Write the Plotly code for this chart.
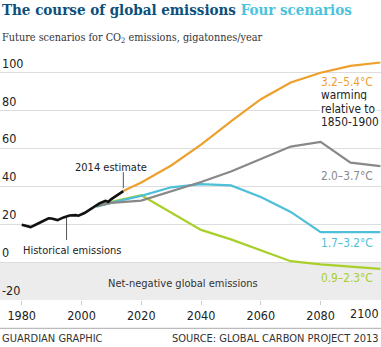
import plotly.graph_objects as go

# Historical fossil CO2 emissions, GtCO2/year
hist_years = [1980, 1983, 1986, 1989, 1990, 1992, 1994, 1996, 1998, 1999, 2001, 2003,
              2005, 2006, 2008, 2009, 2010, 2012, 2014]
hist_vals = [19.7, 18.5, 20.8, 23.1, 23.0, 22.2, 23.6, 24.6, 24.8, 24.5, 25.9, 27.8,
             30.0, 31.0, 32.3, 31.9, 33.3, 35.5, 37.5]

# Scenario pathways
scen_years = [2005, 2010, 2020, 2030, 2040, 2050, 2060, 2070, 2080, 2090, 2100]
high_years = [2014, 2020, 2030, 2040, 2050, 2060, 2070, 2080, 2090, 2100]
high_vals = [37.5, 42.0, 51.0, 62.0, 74.3, 86.0, 94.8, 100.0, 103.6, 105.4]
mid_high_vals = [29.5, 31.3, 32.5, 37.4, 42.3, 47.8, 54.6, 61.0, 63.5, 52.5, 50.7]
mid_low_vals = [29.3, 31.4, 35.0, 39.5, 41.2, 40.5, 34.4, 26.5, 15.8, 15.8, 15.8]
low_vals = [29.4, 31.8, 35.3, 26.0, 17.0, 12.0, 6.3, 0.5, -1.2, -2.5, -3.6]

scen_labels = ["3.2–5.4°C", "2.0–3.7°C", "1.7–3.2°C", "0.9–2.3°C"]
label_vals = [94.9, 45.5, 9.9, -8.6]

x_ticks = [1980, 2000, 2020, 2040, 2060, 2080, 2100]
y_ticks = [-20, 0, 20, 40, 60, 80, 100]

ORANGE = "#eea02d"
GREY = "#888888"
CYAN = "#4ebfd8"
GREEN = "#a9cf2a"
INK = "#222222"
SANS = "DejaVu Sans Condensed, Roboto, sans-serif"
SERIF = "DejaVu Serif Condensed, DejaVu Serif, serif"

fig = go.Figure()
line_w = 2.2
fig.add_trace(go.Scatter(x=scen_years, y=low_vals, mode="lines",
                         line=dict(color=GREEN, width=line_w)))
fig.add_trace(go.Scatter(x=scen_years, y=mid_low_vals, mode="lines",
                         line=dict(color=CYAN, width=line_w)))
fig.add_trace(go.Scatter(x=scen_years, y=mid_high_vals, mode="lines",
                         line=dict(color=GREY, width=line_w)))
fig.add_trace(go.Scatter(x=high_years, y=high_vals, mode="lines",
                         line=dict(color=ORANGE, width=line_w)))
fig.add_trace(go.Scatter(x=hist_years, y=hist_vals, mode="lines",
                         line=dict(color="#111111", width=2.6)))

# Net-negative band
fig.add_shape(type="rect", xref="paper", x0=0, x1=1, yref="y", y0=-20, y1=0,
              fillcolor="#ececec", line_width=0, layer="below")
# Rule above the footer
fig.add_shape(type="line", xref="paper", x0=0, x1=1, yref="paper",
              y0=-0.1155, y1=-0.1155, line=dict(color="#aaaaaa", width=1))
# Pointer lines
fig.add_shape(type="line", x0=hist_years[-1], x1=hist_years[-1], y0=39.0, y1=47.5,
              line=dict(color="#555555", width=1))
fig.add_shape(type="line", x0=1995, x1=1995, y0=11.7, y1=23.3,
              line=dict(color="#555555", width=1))

ann = []
txt = dict(family=SANS, size=11, color=INK)
lab_font = 11.8
ann.append(dict(x=2010, y=50.0, text="2014 estimate", xanchor="center", font=txt))
ann.append(dict(x=1979.6, y=6.4, text="Historical emissions", xanchor="left", font=txt))
ann.append(dict(x=2034, y=-11.2, text="Net-negative global emissions",
                xanchor="center", font=dict(family=SANS, size=11, color="#333333")))
for lab, v, c in zip(scen_labels, label_vals, [ORANGE, GREY, CYAN, GREEN]):
    ann.append(dict(x=2079.4, y=v, text=lab, xanchor="left",
                    font=dict(family=SANS, size=lab_font, color=c)))
for line, v in zip(["warming", "relative to", "1850-1900"], [88.2, 80.8, 73.8]):
    ann.append(dict(x=2079.4, y=v, text=line, xanchor="left", bgcolor="white",
                    borderpad=1, font=dict(family=SANS, size=lab_font, color=INK)))
for a in ann:
    a.update(xref="x", yref="y", showarrow=False, yanchor="middle")

# Y tick labels sit just above their gridlines
for t in y_ticks:
    ann.append(dict(x=0, xref="paper", y=t, yref="y", text=str(t),
                    xanchor="left", yanchor="bottom", showarrow=False,
                    font=dict(family=SANS, size=12.5, color=INK)))

# Last x tick label kept inside the canvas
ann.append(dict(x=1, xref="paper", y=-0.055, yref="paper", text=str(x_ticks[-1]),
                xanchor="right", yanchor="middle", showarrow=False,
                font=dict(family=SANS, size=12.5, color=INK)))

# Title, subtitle, footer
ann.append(dict(x=0, xref="paper", y=1.1837, yref="paper", xanchor="left", yanchor="middle",
                showarrow=False,
                text="<b><span style='color:#0b4f7c'>The course of global emissions</span> "
                     "<span style='color:#4bc3dc'>Four scenarios</span></b>",
                font=dict(family=SERIF, size=15)))
ann.append(dict(x=0, xref="paper", y=1.0694, yref="paper", xanchor="left", yanchor="middle",
                showarrow=False,
                text="Future scenarios for CO<sub>2</sub> emissions, gigatonnes/year",
                font=dict(family=SERIF, size=10.8, color="#333333")))
ann.append(dict(x=0, xref="paper", y=-0.1563, yref="paper", xanchor="left", yanchor="middle",
                showarrow=False, text="GUARDIAN GRAPHIC",
                font=dict(family=SANS, size=11, color="#333333")))
ann.append(dict(x=1, xref="paper", y=-0.1563, yref="paper", xanchor="right", yanchor="middle",
                showarrow=False, text="SOURCE: GLOBAL CARBON PROJECT 2013",
                font=dict(family=SANS, size=11, color="#333333")))

fig.update_layout(
    width=381, height=347,
    margin=dict(l=0, r=0, t=55, b=47),
    paper_bgcolor="white", plot_bgcolor="white",
    showlegend=False,
    annotations=ann,
    xaxis=dict(range=[1972.74, 2100.2], tickvals=x_ticks[:-1],
               ticktext=[str(t) for t in x_ticks[:-1]],
               ticks="outside", ticklen=4, tickcolor="#cccccc",
               showgrid=False, zeroline=False, showline=False,
               tickfont=dict(family=SANS, size=12.5, color=INK)),
    yaxis=dict(range=[-20, 109.35], tickvals=y_ticks, showticklabels=False, ticks="",
               showgrid=True, gridcolor="#dddddd", gridwidth=1,
               zeroline=False, showline=False),
)

fig.write_html("out.html")
